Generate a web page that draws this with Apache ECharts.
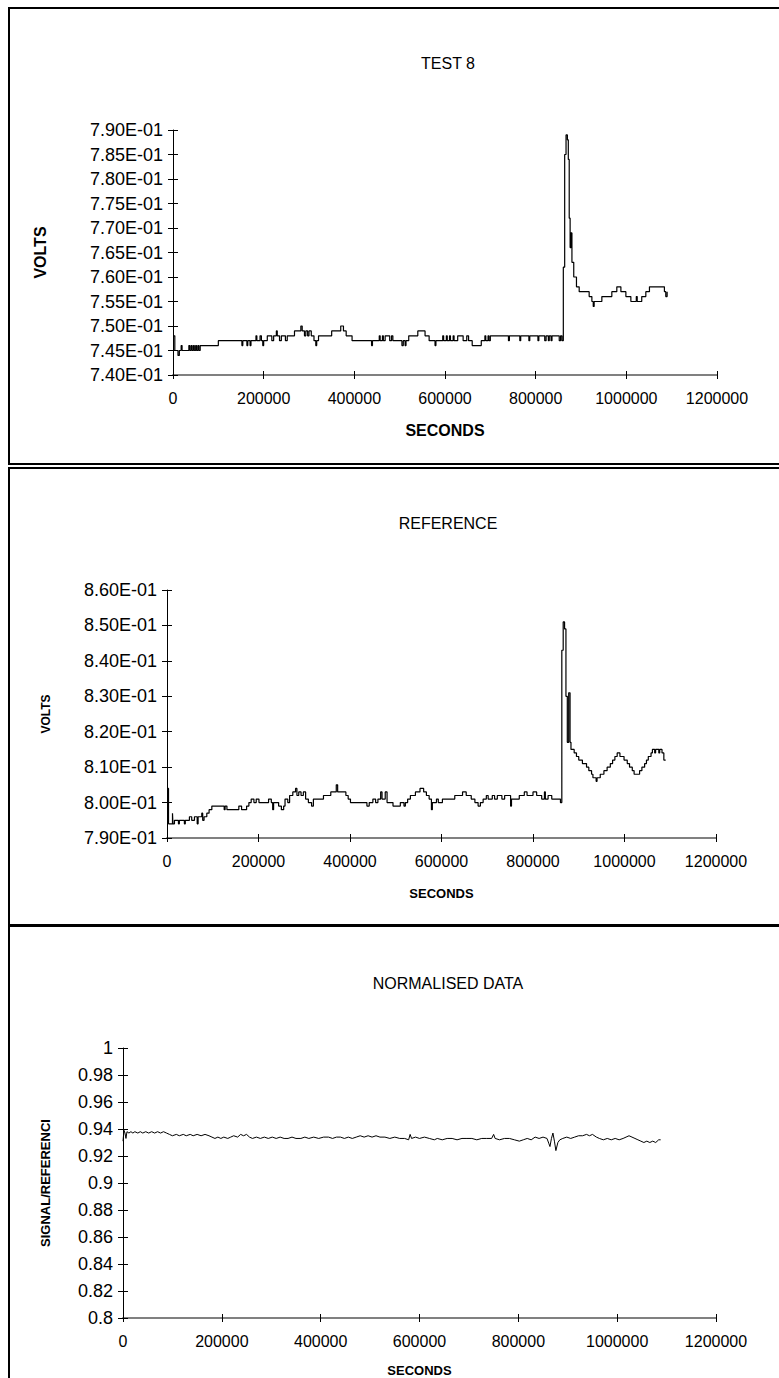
<!DOCTYPE html>
<html>
<head>
<meta charset="utf-8">
<title>TEST 8 / REFERENCE / NORMALISED DATA</title>
<script src="https://cdn.jsdelivr.net/npm/echarts@6/dist/echarts.min.js"></script>
<style>
  html, body { margin: 0; padding: 0; background: #fff; }
  #chart { width: 779px; height: 1378px; }
</style>
</head>
<body>
<div id="chart"></div>
<script>
// --- data (seconds, value) ---
var test8Seconds = [0, 4000, 11000, 14000, 18000, 20000, 35000, 37000, 40000, 42000, 45000, 47000, 50000, 52000, 55000, 57000, 60000,
  100000, 152000, 154000, 163000, 165000, 170000, 172000, 183000, 185000, 192000, 195000, 198000, 200000, 208000, 218000, 222000,
  228000, 230000, 235000, 239000, 248000, 252000, 268000, 282000, 285000, 290000, 293000, 297000, 300000, 305000, 311000, 315000,
  317000, 321000, 350000, 370000, 376000, 382000, 395000, 438000, 440000, 455000, 457000, 462000, 464000, 468000, 478000, 482000,
  485000, 505000, 508000, 512000, 514000, 520000, 540000, 556000, 565000, 578000, 580000, 595000, 597000, 603000, 605000, 610000,
  612000, 618000, 620000, 628000, 640000, 648000, 652000, 660000, 680000, 688000, 690000, 695000, 697000, 700000, 740000, 742000,
  765000, 767000, 785000, 787000, 805000, 807000, 820000, 823000, 828000, 830000, 834000, 836000, 852000, 855000, 858000, 861000,
  864000, 867000, 870000, 872000, 874000, 876000, 878000, 880000, 884000, 890000, 896000, 918000, 924000, 927000, 929000, 946000,
  968000, 979000, 988000, 999000, 1010000, 1022000, 1024000, 1034000, 1043000, 1051000, 1084000, 1087000, 1090000];
var test8Volts = [0.748, 0.745, 0.744, 0.745, 0.746, 0.745, 0.746, 0.745, 0.746, 0.745, 0.746, 0.745, 0.746, 0.745, 0.746, 0.745, 0.746,
  0.747, 0.746, 0.747, 0.746, 0.747, 0.746, 0.747, 0.748, 0.747, 0.748, 0.747, 0.746, 0.747, 0.748, 0.747, 0.748,
  0.749, 0.748, 0.747, 0.748, 0.747, 0.748, 0.749, 0.750, 0.749, 0.748, 0.749, 0.748, 0.749, 0.748, 0.747, 0.746,
  0.747, 0.748, 0.749, 0.750, 0.749, 0.748, 0.747, 0.746, 0.747, 0.748, 0.747, 0.748, 0.747, 0.748, 0.747, 0.748,
  0.747, 0.746, 0.747, 0.746, 0.747, 0.748, 0.749, 0.748, 0.747, 0.746, 0.747, 0.748, 0.747, 0.748, 0.747, 0.748,
  0.747, 0.748, 0.747, 0.748, 0.747, 0.748, 0.747, 0.746, 0.747, 0.748, 0.747, 0.748, 0.747, 0.748, 0.747, 0.748,
  0.747, 0.748, 0.747, 0.748, 0.747, 0.748, 0.747, 0.748, 0.747, 0.748, 0.747, 0.748, 0.747, 0.748, 0.747, 0.762,
  0.785, 0.789, 0.788, 0.784, 0.772, 0.766, 0.769, 0.763, 0.760, 0.758, 0.757, 0.756, 0.755, 0.754, 0.755, 0.756,
  0.757, 0.758, 0.757, 0.756, 0.755, 0.756, 0.755, 0.756, 0.757, 0.758, 0.757, 0.756, 0.757];

var refSeconds = [0, 3300, 12000, 13000, 16300, 25000, 27000, 38000, 40000, 49000, 54000, 60000, 66000, 68000, 76000, 78000, 81000,
  87000, 92000, 98000, 114000, 125000, 127000, 131000, 157000, 163000, 174000, 179000, 184000, 190000, 195000, 201000, 222000,
  228000, 231000, 233000, 244000, 250000, 255000, 258000, 264000, 268000, 275000, 281000, 284000, 288000, 293000, 298000, 303000,
  309000, 316000, 320000, 342000, 358000, 370000, 373000, 391000, 396000, 401000, 437000, 442000, 450000, 456000, 461000, 467000,
  470000, 477000, 481000, 494000, 510000, 518000, 521000, 526000, 532000, 543000, 553000, 561000, 567000, 573000, 578000, 580000,
  589000, 593000, 602000, 629000, 646000, 654000, 665000, 673000, 680000, 685000, 691000, 698000, 702000, 711000, 716000, 722000,
  732000, 738000, 751000, 753000, 770000, 781000, 787000, 800000, 808000, 819000, 825000, 827000, 833000, 841000, 860000, 863000,
  866000, 869000, 872000, 875000, 878000, 881000, 883000, 890000, 895000, 900000, 908000, 917000, 922000, 928000, 931000, 938000,
  940000, 947000, 955000, 962000, 969000, 974000, 979000, 984000, 990000, 999000, 1006000, 1011000, 1017000, 1021000, 1033000,
  1038000, 1044000, 1048000, 1052000, 1058000, 1061000, 1066000, 1068000, 1075000, 1077000, 1082000, 1086000, 1090000];
var refVolts = [0.804, 0.794, 0.797, 0.794, 0.795, 0.794, 0.795, 0.794, 0.795, 0.796, 0.795, 0.796, 0.794, 0.796, 0.797, 0.795, 0.796,
  0.797, 0.798, 0.799, 0.799, 0.798, 0.799, 0.798, 0.799, 0.798, 0.799, 0.800, 0.801, 0.800, 0.801, 0.800, 0.801,
  0.800, 0.798, 0.800, 0.799, 0.798, 0.799, 0.801, 0.800, 0.802, 0.803, 0.804, 0.802, 0.803, 0.802, 0.803, 0.801,
  0.800, 0.799, 0.801, 0.802, 0.803, 0.805, 0.803, 0.802, 0.801, 0.800, 0.799, 0.800, 0.801, 0.800, 0.801, 0.803,
  0.801, 0.803, 0.800, 0.799, 0.800, 0.799, 0.800, 0.801, 0.802, 0.803, 0.804, 0.803, 0.802, 0.801, 0.798, 0.800,
  0.801, 0.800, 0.801, 0.802, 0.803, 0.802, 0.801, 0.800, 0.799, 0.800, 0.801, 0.802, 0.801, 0.802, 0.801, 0.802,
  0.801, 0.802, 0.799, 0.801, 0.802, 0.803, 0.802, 0.803, 0.802, 0.801, 0.803, 0.801, 0.802, 0.801, 0.800, 0.843,
  0.851, 0.849, 0.830, 0.817, 0.831, 0.817, 0.815, 0.814, 0.813, 0.812, 0.811, 0.810, 0.809, 0.808, 0.807, 0.806,
  0.807, 0.808, 0.809, 0.810, 0.811, 0.812, 0.813, 0.814, 0.813, 0.812, 0.811, 0.810, 0.809, 0.808, 0.809,
  0.810, 0.811, 0.812, 0.813, 0.814, 0.815, 0.814, 0.815, 0.814, 0.815, 0.814, 0.812, 0.812];

var normSeconds = [0, 2000, 4000, 6000, 8000, 12000, 16000, 20000, 24000, 30000, 35000, 40000, 46000, 52000, 58000, 64000, 70000,
  76000, 82000, 88000, 94000, 100000, 108000, 114000, 122000, 128000, 136000, 142000, 150000, 158000, 166000, 174000, 180000,
  186000, 192000, 198000, 204000, 212000, 218000, 224000, 232000, 238000, 244000, 250000, 256000, 262000, 270000, 278000, 286000,
  294000, 302000, 310000, 318000, 326000, 334000, 342000, 350000, 360000, 368000, 376000, 386000, 396000, 406000, 416000, 424000,
  432000, 440000, 448000, 456000, 464000, 472000, 480000, 488000, 496000, 504000, 512000, 520000, 530000, 540000, 550000, 560000,
  570000, 578000, 581000, 584000, 592000, 600000, 610000, 620000, 630000, 636000, 646000, 656000, 666000, 676000, 686000, 696000,
  706000, 716000, 726000, 736000, 746000, 750000, 753000, 762000, 772000, 782000, 792000, 802000, 810000, 818000, 826000, 834000,
  842000, 850000, 858000, 862000, 864000, 867000, 870000, 873000, 876000, 880000, 884000, 890000, 898000, 906000, 914000, 922000,
  930000, 938000, 944000, 950000, 958000, 964000, 972000, 980000, 988000, 996000, 1004000, 1012000, 1018000, 1024000, 1030000,
  1036000, 1042000, 1048000, 1054000, 1060000, 1066000, 1072000, 1078000, 1084000, 1088000];
var normRatio = [0.931, 0.939, 0.937, 0.933, 0.938, 0.937, 0.938, 0.937, 0.938, 0.937, 0.938, 0.937, 0.938, 0.937, 0.938, 0.937, 0.938,
  0.937, 0.938, 0.937, 0.936, 0.935, 0.936, 0.935, 0.936, 0.935, 0.936, 0.935, 0.936, 0.935, 0.936, 0.935, 0.934,
  0.933, 0.934, 0.933, 0.934, 0.933, 0.934, 0.935, 0.934, 0.936, 0.935, 0.936, 0.934, 0.933, 0.934, 0.933, 0.934,
  0.933, 0.934, 0.933, 0.934, 0.933, 0.933, 0.934, 0.933, 0.933, 0.934, 0.933, 0.934, 0.933, 0.934, 0.934, 0.933,
  0.934, 0.934, 0.933, 0.934, 0.933, 0.934, 0.935, 0.934, 0.935, 0.934, 0.935, 0.934, 0.934, 0.933, 0.934, 0.933,
  0.933, 0.932, 0.936, 0.933, 0.934, 0.933, 0.934, 0.933, 0.932, 0.933, 0.932, 0.933, 0.933, 0.932, 0.933, 0.933,
  0.933, 0.932, 0.933, 0.933, 0.933, 0.936, 0.933, 0.932, 0.933, 0.933, 0.932, 0.931, 0.932, 0.933, 0.932, 0.934,
  0.933, 0.934, 0.933, 0.929, 0.927, 0.933, 0.937, 0.931, 0.924, 0.930, 0.932, 0.933, 0.934, 0.933, 0.934, 0.935,
  0.935, 0.936, 0.935, 0.936, 0.934, 0.933, 0.932, 0.933, 0.932, 0.933, 0.932, 0.933, 0.934, 0.935, 0.934,
  0.933, 0.932, 0.931, 0.930, 0.931, 0.930, 0.931, 0.930, 0.932, 0.932];

var secondsRange = [0, 1200000, 200000];
var test8Range = [0.74, 0.79, 0.005];
var refRange = [0.79, 0.86, 0.01];
var normRange = [0.8, 1, 0.02];

function zip(xs, ys) {
  var out = [];
  for (var i = 0; i < xs.length; i++) out.push([xs[i], ys[i]]);
  return out;
}

function sci(v) {
  var parts = v.toExponential(2).split('e');
  var exp = parseInt(parts[1], 10);
  var mag = Math.abs(exp);
  return parts[0] + 'E' + (exp < 0 ? '-' : '+') + (mag < 10 ? '0' + mag : mag);
}

var font = '"Liberation Sans", Arial, sans-serif';

var panels = [
  { title: 'TEST 8', titleTop: 50, grid: { left: 173, top: 130, width: 544, height: 245 },
    yName: 'VOLTS', yNameSize: 16, yGap: 125, xNameSize: 16, xGap: 47,
    range: test8Range, fmt: sci, data: zip(test8Seconds, test8Volts), step: 'end', width: 1.2 },
  { title: 'REFERENCE', titleTop: 510, grid: { left: 167, top: 590, width: 549, height: 248 },
    yName: 'VOLTS', yNameSize: 12, yGap: 115, xNameSize: 13, xGap: 49,
    range: refRange, fmt: sci, data: zip(refSeconds, refVolts), step: 'end', width: 1.2 },
  { title: 'NORMALISED DATA', titleTop: 970, grid: { left: 123, top: 1048, width: 593, height: 270 },
    yName: 'SIGNAL/REFERENCI', yNameSize: 13, yGap: 71, xNameSize: 13, xGap: 46,
    range: normRange, fmt: null, data: zip(normSeconds, normRatio), step: false, width: 1 }
];

var option = {
  animation: false,
  backgroundColor: '#fff',
  textStyle: { fontFamily: font, color: '#000' },
  title: [], grid: [], xAxis: [], yAxis: [], series: [],
  graphic: [
    { type: 'rect', shape: { x: 9, y: 8, width: 790, height: 456 }, style: { fill: 'none', stroke: '#000', lineWidth: 2 }, silent: true },
    { type: 'rect', shape: { x: 9, y: 468, width: 790, height: 457 }, style: { fill: 'none', stroke: '#000', lineWidth: 2 }, silent: true },
    { type: 'rect', shape: { x: 9, y: 926, width: 790, height: 500 }, style: { fill: 'none', stroke: '#000', lineWidth: 2 }, silent: true }
  ]
};

panels.forEach(function (p, i) {
  option.title.push({
    text: p.title, left: 443, top: p.titleTop, textAlign: 'center',
    textStyle: { fontFamily: font, fontSize: 16, fontWeight: 'normal', color: '#000' }
  });
  option.grid.push({ left: p.grid.left, top: p.grid.top, width: p.grid.width, height: p.grid.height, outerBoundsMode: 'none' });

  // main axes: line, labels, outer half of the ticks
  option.xAxis.push({
    gridIndex: i, type: 'value', position: 'bottom',
    min: secondsRange[0], max: secondsRange[1], interval: secondsRange[2],
    axisLine: { show: true, onZero: false, lineStyle: { color: '#808080', width: 2 } },
    axisTick: { show: true, length: 4, lineStyle: { color: '#000' } },
    axisLabel: { color: '#000', fontFamily: font, fontSize: 16, margin: 15, formatter: function (v) { return String(v); } },
    splitLine: { show: false },
    name: 'SECONDS', nameLocation: 'middle', nameGap: p.xGap,
    nameTextStyle: { fontFamily: font, fontWeight: 'bold', fontSize: p.xNameSize, color: '#000' }
  });
  // inner half of the ticks so they cross the axis
  option.xAxis.push({
    gridIndex: i, type: 'value', position: 'bottom',
    min: secondsRange[0], max: secondsRange[1], interval: secondsRange[2],
    axisLine: { show: false }, axisLabel: { show: false }, splitLine: { show: false },
    axisTick: { show: true, inside: true, length: 4, lineStyle: { color: '#000' } }
  });
  option.yAxis.push({
    gridIndex: i, type: 'value', position: 'left',
    min: p.range[0], max: p.range[1], interval: p.range[2],
    axisLine: { show: true, onZero: false, lineStyle: { color: '#000', width: 1 } },
    axisTick: { show: true, length: 5, lineStyle: { color: '#000' } },
    axisLabel: { color: '#000', fontFamily: font, fontSize: 18, margin: 10, formatter: p.fmt || undefined },
    splitLine: { show: false },
    name: p.yName, nameLocation: 'middle', nameGap: p.yGap,
    nameTextStyle: { fontFamily: font, fontWeight: 'bold', fontSize: p.yNameSize, color: '#000' }
  });
  option.yAxis.push({
    gridIndex: i, type: 'value', position: 'left',
    min: p.range[0], max: p.range[1], interval: p.range[2],
    axisLine: { show: false }, axisLabel: { show: false }, splitLine: { show: false },
    axisTick: { show: true, inside: true, length: 5, lineStyle: { color: '#000' } }
  });

  option.series.push({
    type: 'line', xAxisIndex: i * 2, yAxisIndex: i * 2,
    data: p.data, step: p.step, showSymbol: false, symbol: 'none', silent: true,
    lineStyle: { color: '#000', width: p.width }
  });
});

var chart = echarts.init(document.getElementById('chart'), null, { renderer: 'svg' });
chart.setOption(option);
window.addEventListener('resize', function () { chart.resize(); });
</script>
</body>
</html>
